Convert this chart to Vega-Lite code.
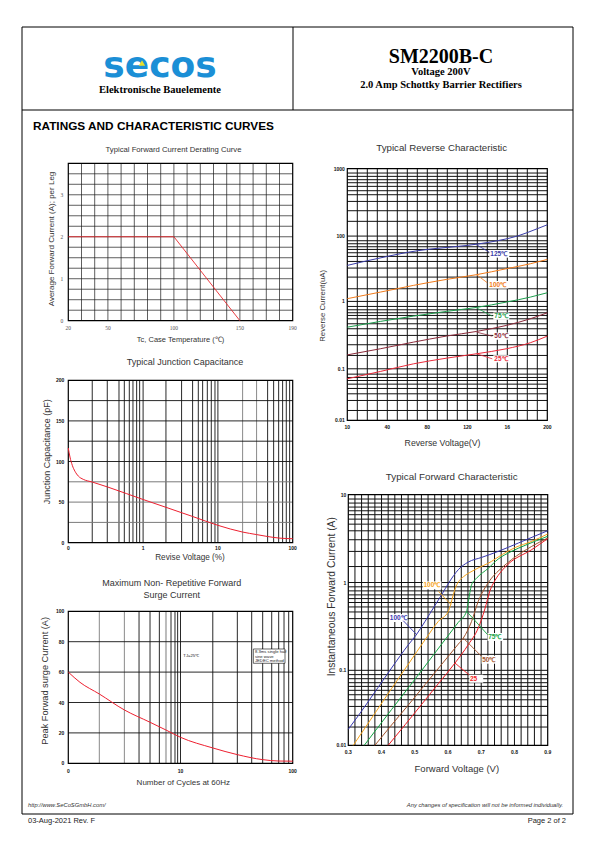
{
  "$schema": "https://vega.github.io/schema/vega-lite/v6.json",
  "width": 595,
  "height": 842,
  "autosize": {"type": "none"},
  "padding": 0,
  "background": "#ffffff",
  "config": {
    "view": {"stroke": null},
    "text": {"font": "Liberation Sans"}
  },
  "resolve": {"scale": {"x": "independent", "y": "independent", "color": "independent"}},
  "layer": [
    {
      "layer": [
        {"data": {"values": [{}]}, "mark": {"type": "rect", "x": 22, "x2": 573, "y": 27, "y2": 814, "filled": false, "color": "#000000", "strokeWidth": 1}, "encoding": {}},
        {"data": {"values": [{}]}, "mark": {"type": "rect", "x": 22, "x2": 573, "y": 109.5, "y2": 110.5, "color": "#000000"}, "encoding": {}},
        {"data": {"values": [{}]}, "mark": {"type": "rect", "x": 292.5, "x2": 293.5, "y": 27, "y2": 110, "color": "#000000"}, "encoding": {}},
        {"data": {"values": [{}]}, "mark": {"type": "text", "text": "secos", "x": 160, "y": 76.5, "font": "DejaVu Sans", "fontWeight": "bold", "fontSize": 36, "letterSpacing": 1, "align": "center", "baseline": "alphabetic", "color": "#1b8fd6"}, "encoding": {}},
        {"data": {"values": [{}]}, "mark": {"type": "point", "shape": "triangle-up", "filled": true, "opacity": 1, "color": "#e6df2a", "size": 40, "x": 142, "y": 63}, "encoding": {}},
        {"data": {"values": [{}]}, "mark": {"type": "text", "text": "Elektronische Bauelemente", "x": 160, "y": 89.5, "font": "Liberation Serif", "fontWeight": "bold", "fontSize": 10.5, "align": "center", "baseline": "middle", "color": "#000000"}, "encoding": {}},
        {"data": {"values": [{}]}, "mark": {"type": "text", "text": "SM2200B-C", "x": 441, "y": 57, "font": "Liberation Serif", "fontWeight": "bold", "fontSize": 20, "align": "center", "baseline": "middle", "color": "#000000"}, "encoding": {}},
        {"data": {"values": [{}]}, "mark": {"type": "text", "text": "Voltage 200V", "x": 441, "y": 72, "font": "Liberation Serif", "fontWeight": "bold", "fontSize": 10.5, "align": "center", "baseline": "middle", "color": "#000000"}, "encoding": {}},
        {"data": {"values": [{}]}, "mark": {"type": "text", "text": "2.0 Amp Schottky Barrier Rectifiers", "x": 441, "y": 84.5, "font": "Liberation Serif", "fontWeight": "bold", "fontSize": 10.5, "align": "center", "baseline": "middle", "color": "#000000"}, "encoding": {}},
        {"data": {"values": [{}]}, "mark": {"type": "text", "text": "RATINGS AND CHARACTERISTIC CURVES", "x": 33, "y": 126, "fontWeight": "bold", "fontSize": 11.8, "align": "left", "baseline": "middle", "color": "#000000"}, "encoding": {}},
        {"data": {"values": [{}]}, "mark": {"type": "text", "text": "Typical Forward Current Derating Curve", "x": 173.5, "y": 150, "fontSize": 7.7, "align": "center", "baseline": "middle", "color": "#333333"}, "encoding": {}},
        {"data": {"values": [{}]}, "mark": {"type": "text", "text": "Typical Reverse Characteristic", "x": 441.7, "y": 148.3, "fontSize": 9.7, "align": "center", "baseline": "middle", "color": "#333333"}, "encoding": {}},
        {"data": {"values": [{}]}, "mark": {"type": "text", "text": "Typical Junction Capacitance", "x": 185, "y": 362.3, "fontSize": 9, "align": "center", "baseline": "middle", "color": "#333333"}, "encoding": {}},
        {"data": {"values": [{}]}, "mark": {"type": "text", "text": "Typical Forward Characteristic", "x": 451.7, "y": 476.7, "fontSize": 9.8, "align": "center", "baseline": "middle", "color": "#333333"}, "encoding": {}},
        {"data": {"values": [{}]}, "mark": {"type": "text", "text": "Maximum Non- Repetitive Forward", "x": 171.7, "y": 583.3, "fontSize": 9, "align": "center", "baseline": "middle", "color": "#333333"}, "encoding": {}},
        {"data": {"values": [{}]}, "mark": {"type": "text", "text": "Surge Current", "x": 171.7, "y": 595, "fontSize": 9, "align": "center", "baseline": "middle", "color": "#333333"}, "encoding": {}},
        {"data": {"values": [{}]}, "mark": {"type": "text", "text": "Tc, Case Temperature (℃)", "x": 180.5, "y": 340, "fontSize": 7.5, "align": "center", "baseline": "middle", "color": "#333333"}, "encoding": {}},
        {"data": {"values": [{}]}, "mark": {"type": "text", "text": "Average Forward Current (A); per Leg", "x": 51.7, "y": 239, "angle": 270, "fontSize": 8, "align": "center", "baseline": "middle", "color": "#333333"}, "encoding": {}},
        {"data": {"values": [{}]}, "mark": {"type": "text", "text": "Reverse Voltage(V)", "x": 442.5, "y": 442.7, "fontSize": 8.75, "align": "center", "baseline": "middle", "color": "#333333"}, "encoding": {}},
        {"data": {"values": [{}]}, "mark": {"type": "text", "text": "Reverse Current(uA)", "x": 323.3, "y": 305.8, "angle": 270, "fontSize": 7.8, "align": "center", "baseline": "middle", "color": "#333333"}, "encoding": {}},
        {"data": {"values": [{}]}, "mark": {"type": "text", "text": "Revise Voltage (%)", "x": 190, "y": 558.3, "fontSize": 8.2, "align": "center", "baseline": "middle", "color": "#333333"}, "encoding": {}},
        {"data": {"values": [{}]}, "mark": {"type": "text", "text": "Junction Capacitance (pF)", "x": 47.3, "y": 451.7, "angle": 270, "fontSize": 9, "align": "center", "baseline": "middle", "color": "#333333"}, "encoding": {}},
        {"data": {"values": [{}]}, "mark": {"type": "text", "text": "Number of Cycles at 60Hz", "x": 183.3, "y": 783.3, "fontSize": 8, "align": "center", "baseline": "middle", "color": "#333333"}, "encoding": {}},
        {"data": {"values": [{}]}, "mark": {"type": "text", "text": "Peak Forwad surge Current (A)", "x": 45, "y": 680.8, "angle": 270, "fontSize": 9.2, "align": "center", "baseline": "middle", "color": "#333333"}, "encoding": {}},
        {"data": {"values": [{}]}, "mark": {"type": "text", "text": "Forward Voltage (V)", "x": 456.8, "y": 769, "fontSize": 9.5, "align": "center", "baseline": "middle", "color": "#333333"}, "encoding": {}},
        {"data": {"values": [{}]}, "mark": {"type": "text", "text": "Instantaneous Forward Current (A)", "x": 331.7, "y": 596.7, "angle": 270, "fontSize": 10.3, "align": "center", "baseline": "middle", "color": "#333333"}, "encoding": {}},
        {"data": {"values": [{}]}, "mark": {"type": "text", "text": "http://www.SeCoSGmbH.com/", "x": 28, "y": 805, "fontSize": 5.8, "fontStyle": "italic", "align": "left", "baseline": "middle", "color": "#333333"}, "encoding": {}},
        {"data": {"values": [{}]}, "mark": {"type": "text", "text": "Any changes of specification will not be informed individually.", "x": 563, "y": 805, "fontSize": 5.8, "fontStyle": "italic", "align": "right", "baseline": "middle", "color": "#333333"}, "encoding": {}},
        {"data": {"values": [{}]}, "mark": {"type": "text", "text": "03-Aug-2021 Rev. F", "x": 28, "y": 821, "fontSize": 7.5, "align": "left", "baseline": "middle", "color": "#222222"}, "encoding": {}},
        {"data": {"values": [{}]}, "mark": {"type": "text", "text": "Page 2 of 2", "x": 566, "y": 821, "fontSize": 7.5, "align": "right", "baseline": "middle", "color": "#222222"}, "encoding": {}}
      ]
    },
    {
      "layer": [
        {"data": {"values": [{"g": 30}, {"g": 40}, {"g": 50}, {"g": 60}, {"g": 70}, {"g": 80}, {"g": 90}, {"g": 100}, {"g": 110}, {"g": 120}, {"g": 130}, {"g": 140}, {"g": 150}, {"g": 160}, {"g": 170}, {"g": 180}]},
         "mark": {"type": "rule", "color": "#1a1a1a", "strokeWidth": 0.7},
         "encoding": {
           "x": {"field": "g", "type": "quantitative", "scale": {"type": "linear", "domain": [20, 190], "range": [68.3, 292.7], "nice": false, "zero": false}, "axis": null},
           "y": {"datum": 0, "scale": {"type": "linear", "domain": [0, 3.75], "range": [320.7, 163.3], "nice": false, "zero": false}, "axis": null},
           "y2": {"datum": 3.75}}},
        {"data": {"values": [{"h": 0.25}, {"h": 0.5}, {"h": 0.75}, {"h": 1}, {"h": 1.25}, {"h": 1.5}, {"h": 1.75}, {"h": 2}, {"h": 2.25}, {"h": 2.5}, {"h": 2.75}, {"h": 3}, {"h": 3.25}, {"h": 3.5}]},
         "mark": {"type": "rule", "color": "#1a1a1a", "strokeWidth": 0.7},
         "encoding": {
           "y": {"field": "h", "type": "quantitative", "scale": {"type": "linear", "domain": [0, 3.75], "range": [320.7, 163.3], "nice": false, "zero": false}, "axis": null},
           "x": {"datum": 20, "scale": {"type": "linear", "domain": [20, 190], "range": [68.3, 292.7], "nice": false, "zero": false}, "axis": null},
           "x2": {"datum": 190}}},
        {"data": {"values": [{}]}, "mark": {"type": "rect", "filled": false, "color": "#000000", "strokeWidth": 1.2},
         "encoding": {
           "x": {"datum": 20, "scale": {"type": "linear", "domain": [20, 190], "range": [68.3, 292.7], "nice": false, "zero": false}, "axis": null},
           "x2": {"datum": 190},
           "y": {"datum": 0, "scale": {"type": "linear", "domain": [0, 3.75], "range": [320.7, 163.3], "nice": false, "zero": false}, "axis": null},
           "y2": {"datum": 3.75}}},
        {"data": {"values": [{"t": 20, "a": 2}, {"t": 100, "a": 2}, {"t": 150, "a": 0}]},
         "mark": {"type": "line", "color": "#e8282e", "strokeWidth": 0.9},
         "encoding": {
           "x": {"field": "t", "type": "quantitative", "scale": {"type": "linear", "domain": [20, 190], "range": [68.3, 292.7], "nice": false, "zero": false}, "axis": null},
           "y": {"field": "a", "type": "quantitative", "scale": {"type": "linear", "domain": [0, 3.75], "range": [320.7, 163.3], "nice": false, "zero": false}, "axis": null}}},
        {"data": {"values": [{"g": 20, "lab": "20"}, {"g": 50, "lab": "50"}, {"g": 100, "lab": "100"}, {"g": 150, "lab": "150"}, {"g": 190, "lab": "190"}]},
         "mark": {"type": "text", "font": "Liberation Serif", "fontSize": 5.5, "color": "#555555", "align": "center", "baseline": "middle", "dy": 7},
         "encoding": {
           "x": {"field": "g", "type": "quantitative", "scale": {"type": "linear", "domain": [20, 190], "range": [68.3, 292.7], "nice": false, "zero": false}, "axis": null},
           "y": {"datum": 0, "scale": {"type": "linear", "domain": [0, 3.75], "range": [320.7, 163.3], "nice": false, "zero": false}, "axis": null},
           "text": {"field": "lab"}}},
        {"data": {"values": [{"h": 0, "lab": "0"}, {"h": 1, "lab": "1"}, {"h": 2, "lab": "2"}, {"h": 3, "lab": "3"}]},
         "mark": {"type": "text", "font": "Liberation Serif", "fontSize": 5.5, "color": "#555555", "align": "right", "baseline": "middle", "dx": -5},
         "encoding": {
           "y": {"field": "h", "type": "quantitative", "scale": {"type": "linear", "domain": [0, 3.75], "range": [320.7, 163.3], "nice": false, "zero": false}, "axis": null},
           "x": {"datum": 20, "scale": {"type": "linear", "domain": [20, 190], "range": [68.3, 292.7], "nice": false, "zero": false}, "axis": null},
           "text": {"field": "lab"}}}
      ]
    },
    {
      "layer": [
        {"data": {"values": [{"g": 0.209}, {"g": 0.332}, {"g": 0.476}, {"g": 0.561}, {"g": 0.654}, {"g": 0.732}, {"g": 0.82}, {"g": 0.899}, {"g": 1}, {"g": 2.02}, {"g": 3.27}, {"g": 4.59}, {"g": 5.47}, {"g": 6.25}, {"g": 7.22}, {"g": 8.16}, {"g": 9.14}, {"g": 10}, {"g": 46.2}, {"g": 55.6}, {"g": 64.9}, {"g": 73.3}, {"g": 82.1}, {"g": 91}]},
         "mark": {"type": "rule", "color": "#111111", "strokeWidth": 0.9},
         "encoding": {
           "x": {"field": "g", "type": "quantitative", "scale": {"type": "log", "domain": [0.1, 100], "range": [68.3, 292.7], "nice": false}, "axis": null},
           "y": {"datum": 0, "scale": {"type": "linear", "domain": [0, 200], "range": [542.7, 380.3], "nice": false, "zero": false}, "axis": null},
           "y2": {"datum": 200}}},
        {"data": {"values": [{"g": 21.4}, {"g": 32.9}]},
         "mark": {"type": "rule", "color": "#8a8a8a", "strokeWidth": 1},
         "encoding": {
           "x": {"field": "g", "type": "quantitative", "scale": {"type": "log", "domain": [0.1, 100], "range": [68.3, 292.7], "nice": false}, "axis": null},
           "y": {"datum": 0, "scale": {"type": "linear", "domain": [0, 200], "range": [542.7, 380.3], "nice": false, "zero": false}, "axis": null},
           "y2": {"datum": 200}}},
        {"data": {"values": [{"h": 100}, {"h": 125}, {"h": 150}, {"h": 175}]},
         "mark": {"type": "rule", "color": "#111111", "strokeWidth": 0.9},
         "encoding": {
           "y": {"field": "h", "type": "quantitative", "scale": {"type": "linear", "domain": [0, 200], "range": [542.7, 380.3], "nice": false, "zero": false}, "axis": null},
           "x": {"datum": 0.1, "scale": {"type": "log", "domain": [0.1, 100], "range": [68.3, 292.7], "nice": false}, "axis": null},
           "x2": {"datum": 100}}},
        {"data": {"values": [{"h": 25}, {"h": 50}, {"h": 75}]},
         "mark": {"type": "rule", "color": "#7a7a7a", "strokeWidth": 1},
         "encoding": {
           "y": {"field": "h", "type": "quantitative", "scale": {"type": "linear", "domain": [0, 200], "range": [542.7, 380.3], "nice": false, "zero": false}, "axis": null},
           "x": {"datum": 0.1, "scale": {"type": "log", "domain": [0.1, 100], "range": [68.3, 292.7], "nice": false}, "axis": null},
           "x2": {"datum": 100}}},
        {"data": {"values": [{}]}, "mark": {"type": "rect", "filled": false, "color": "#000000", "strokeWidth": 1.2},
         "encoding": {
           "x": {"datum": 0.1, "scale": {"type": "log", "domain": [0.1, 100], "range": [68.3, 292.7], "nice": false}, "axis": null},
           "x2": {"datum": 100},
           "y": {"datum": 0, "scale": {"type": "linear", "domain": [0, 200], "range": [542.7, 380.3], "nice": false, "zero": false}, "axis": null},
           "y2": {"datum": 200}}},
        {"data": {"values": [{"v": 0.1, "c": 116.6}, {"v": 0.1053, "c": 105.5}, {"v": 0.1131, "c": 95.3}, {"v": 0.1228, "c": 87.9}, {"v": 0.136, "c": 82.1}, {"v": 0.1587, "c": 78.0}, {"v": 0.209, "c": 74.7}, {"v": 0.3355, "c": 68.6}, {"v": 0.602, "c": 60.4}, {"v": 1, "c": 53.2}, {"v": 2.02, "c": 43.6}, {"v": 4.59, "c": 32.3}, {"v": 10, "c": 21.4}, {"v": 21.4, "c": 13.1}, {"v": 32.9, "c": 10.0}, {"v": 46.2, "c": 7.6}, {"v": 67.6, "c": 5.6}, {"v": 100, "c": 4.9}]},
         "mark": {"type": "line", "color": "#ee2030", "strokeWidth": 1, "interpolate": "monotone"},
         "encoding": {
           "x": {"field": "v", "type": "quantitative", "scale": {"type": "log", "domain": [0.1, 100], "range": [68.3, 292.7], "nice": false}, "axis": null},
           "y": {"field": "c", "type": "quantitative", "scale": {"type": "linear", "domain": [0, 200], "range": [542.7, 380.3], "nice": false, "zero": false}, "axis": null}}},
        {"data": {"values": [{"g": 0.1, "lab": "0"}, {"g": 1, "lab": "1"}, {"g": 10, "lab": "10"}, {"g": 100, "lab": "100"}]},
         "mark": {"type": "text", "fontWeight": "bold", "fontSize": 5, "color": "#111111", "align": "center", "baseline": "middle", "dy": 5},
         "encoding": {
           "x": {"field": "g", "type": "quantitative", "scale": {"type": "log", "domain": [0.1, 100], "range": [68.3, 292.7], "nice": false}, "axis": null},
           "y": {"datum": 0, "scale": {"type": "linear", "domain": [0, 200], "range": [542.7, 380.3], "nice": false, "zero": false}, "axis": null},
           "text": {"field": "lab"}}},
        {"data": {"values": [{"h": 0, "lab": "0"}, {"h": 50, "lab": "50"}, {"h": 100, "lab": "100"}, {"h": 150, "lab": "150"}, {"h": 200, "lab": "200"}]},
         "mark": {"type": "text", "fontWeight": "bold", "fontSize": 5, "color": "#111111", "align": "right", "baseline": "middle", "dx": -4},
         "encoding": {
           "y": {"field": "h", "type": "quantitative", "scale": {"type": "linear", "domain": [0, 200], "range": [542.7, 380.3], "nice": false, "zero": false}, "axis": null},
           "x": {"datum": 0.1, "scale": {"type": "log", "domain": [0.1, 100], "range": [68.3, 292.7], "nice": false}, "axis": null},
           "text": {"field": "lab"}}}
      ]
    },
    {
      "layer": [
        {"data": {"values": [{"g": 4.27}, {"g": 5.35}, {"g": 6.48}, {"g": 8.23}, {"g": 8.93}, {"g": 9.43}, {"g": 10}, {"g": 19.4}, {"g": 32.1}, {"g": 43.1}, {"g": 54}, {"g": 65}, {"g": 75}, {"g": 83.7}, {"g": 92.1}]},
         "mark": {"type": "rule", "color": "#111111", "strokeWidth": 0.9},
         "encoding": {
           "x": {"field": "g", "type": "quantitative", "scale": {"type": "log", "domain": [1, 100], "range": [68.3, 292.7], "nice": false}, "axis": null},
           "y": {"datum": 0, "scale": {"type": "linear", "domain": [0, 100], "range": [763.3, 611.3], "nice": false, "zero": false}, "axis": null},
           "y2": {"datum": 100}}},
        {"data": {"values": [{"g": 1.89}, {"g": 3.16}]},
         "mark": {"type": "rule", "color": "#8a8a8a", "strokeWidth": 1},
         "encoding": {
           "x": {"field": "g", "type": "quantitative", "scale": {"type": "log", "domain": [1, 100], "range": [68.3, 292.7], "nice": false}, "axis": null},
           "y": {"datum": 0, "scale": {"type": "linear", "domain": [0, 100], "range": [763.3, 611.3], "nice": false, "zero": false}, "axis": null},
           "y2": {"datum": 100}}},
        {"data": {"values": [{"g": 7.42}]},
         "mark": {"type": "rule", "color": "#bbbbbb", "strokeWidth": 2},
         "encoding": {
           "x": {"field": "g", "type": "quantitative", "scale": {"type": "log", "domain": [1, 100], "range": [68.3, 292.7], "nice": false}, "axis": null},
           "y": {"datum": 0, "scale": {"type": "linear", "domain": [0, 100], "range": [763.3, 611.3], "nice": false, "zero": false}, "axis": null},
           "y2": {"datum": 100}}},
        {"data": {"values": [{"h": 20}, {"h": 40}, {"h": 60}, {"h": 80}]},
         "mark": {"type": "rule", "color": "#111111", "strokeWidth": 0.9},
         "encoding": {
           "y": {"field": "h", "type": "quantitative", "scale": {"type": "linear", "domain": [0, 100], "range": [763.3, 611.3], "nice": false, "zero": false}, "axis": null},
           "x": {"datum": 1, "scale": {"type": "log", "domain": [1, 100], "range": [68.3, 292.7], "nice": false}, "axis": null},
           "x2": {"datum": 100}}},
        {"data": {"values": [{}]}, "mark": {"type": "rect", "filled": false, "color": "#000000", "strokeWidth": 1.2},
         "encoding": {
           "x": {"datum": 1, "scale": {"type": "log", "domain": [1, 100], "range": [68.3, 292.7], "nice": false}, "axis": null},
           "x2": {"datum": 100},
           "y": {"datum": 0, "scale": {"type": "linear", "domain": [0, 100], "range": [763.3, 611.3], "nice": false, "zero": false}, "axis": null},
           "y2": {"datum": 100}}},
        {"data": {"values": [{"x": 44.6, "x2": 85.4, "y": 65.8, "y2": 75.2}]},
         "mark": {"type": "rect", "fill": "#ffffff", "stroke": "#000000", "strokeWidth": 0.6},
         "encoding": {
           "x": {"field": "x", "type": "quantitative", "scale": {"type": "log", "domain": [1, 100], "range": [68.3, 292.7], "nice": false}, "axis": null},
           "x2": {"field": "x2"},
           "y": {"field": "y", "type": "quantitative", "scale": {"type": "linear", "domain": [0, 100], "range": [763.3, 611.3], "nice": false, "zero": false}, "axis": null},
           "y2": {"field": "y2"}}},
        {"data": {"values": [{"n": 10.6, "p": 70.8, "t": "TJ=25℃"}, {"n": 46.1, "p": 73.0, "t": "8.3ms single half"}, {"n": 46.1, "p": 70.2, "t": "sine wave"}, {"n": 46.1, "p": 67.3, "t": "JEDEC method"}]},
         "mark": {"type": "text", "align": "left", "baseline": "middle", "fontSize": 4.2, "color": "#222222"},
         "encoding": {
           "x": {"field": "n", "type": "quantitative", "scale": {"type": "log", "domain": [1, 100], "range": [68.3, 292.7], "nice": false}, "axis": null},
           "y": {"field": "p", "type": "quantitative", "scale": {"type": "linear", "domain": [0, 100], "range": [763.3, 611.3], "nice": false, "zero": false}, "axis": null},
           "text": {"field": "t"}}},
        {"data": {"values": [{"n": 1, "a": 60}, {"n": 1.27, "a": 53.3}, {"n": 1.89, "a": 45.6}, {"n": 3.16, "a": 35.1}, {"n": 5.35, "a": 27.0}, {"n": 7.42, "a": 21.9}, {"n": 10, "a": 17.1}, {"n": 19.4, "a": 10.1}, {"n": 32.1, "a": 5.7}, {"n": 54, "a": 2.4}, {"n": 75, "a": 1.5}, {"n": 100, "a": 1.4}]},
         "mark": {"type": "line", "color": "#ee2030", "strokeWidth": 1, "interpolate": "monotone"},
         "encoding": {
           "x": {"field": "n", "type": "quantitative", "scale": {"type": "log", "domain": [1, 100], "range": [68.3, 292.7], "nice": false}, "axis": null},
           "y": {"field": "a", "type": "quantitative", "scale": {"type": "linear", "domain": [0, 100], "range": [763.3, 611.3], "nice": false, "zero": false}, "axis": null}}},
        {"data": {"values": [{"g": 1, "lab": "0"}, {"g": 10, "lab": "10"}, {"g": 100, "lab": "100"}]},
         "mark": {"type": "text", "fontWeight": "bold", "fontSize": 5, "color": "#111111", "align": "center", "baseline": "middle", "dy": 7.7},
         "encoding": {
           "x": {"field": "g", "type": "quantitative", "scale": {"type": "log", "domain": [1, 100], "range": [68.3, 292.7], "nice": false}, "axis": null},
           "y": {"datum": 0, "scale": {"type": "linear", "domain": [0, 100], "range": [763.3, 611.3], "nice": false, "zero": false}, "axis": null},
           "text": {"field": "lab"}}},
        {"data": {"values": [{"h": 0, "lab": "0"}, {"h": 20, "lab": "20"}, {"h": 40, "lab": "40"}, {"h": 60, "lab": "60"}, {"h": 80, "lab": "80"}, {"h": 100, "lab": "100"}]},
         "mark": {"type": "text", "fontWeight": "bold", "fontSize": 5, "color": "#111111", "align": "right", "baseline": "middle", "dx": -4},
         "encoding": {
           "y": {"field": "h", "type": "quantitative", "scale": {"type": "linear", "domain": [0, 100], "range": [763.3, 611.3], "nice": false, "zero": false}, "axis": null},
           "x": {"datum": 1, "scale": {"type": "log", "domain": [1, 100], "range": [68.3, 292.7], "nice": false}, "axis": null},
           "text": {"field": "lab"}}}
      ]
    },
    {
      "layer": [
        {"data": {"values": [{"g": 10}, {"g": 20}, {"g": 30}, {"g": 40}, {"g": 50}, {"g": 60}, {"g": 70}, {"g": 80}, {"g": 90}, {"g": 100}, {"g": 110}, {"g": 120}, {"g": 130}, {"g": 140}, {"g": 150}, {"g": 160}, {"g": 170}, {"g": 180}, {"g": 190}]},
         "mark": {"type": "rule", "color": "#111111", "strokeWidth": 1},
         "encoding": {
           "x": {"field": "g", "type": "quantitative", "scale": {"type": "linear", "domain": [0, 200], "range": [347.3, 547.3], "nice": false, "zero": false}, "axis": null},
           "y": {"datum": 0.0163, "scale": {"type": "log", "domain": [0.0163, 99], "range": [420.3, 168.7], "nice": false}, "axis": null},
           "y2": {"datum": 99}}},
        {"data": {"values": [{"h": 85.2}, {"h": 75.9}, {"h": 67.6}, {"h": 60.9}, {"h": 53.7}, {"h": 46.2}, {"h": 40.2}, {"h": 31.9}, {"h": 23.1}, {"h": 16.0}, {"h": 9.6}, {"h": 8.17}, {"h": 7.36}, {"h": 6.64}, {"h": 6.05}, {"h": 5.39}, {"h": 4.75}, {"h": 3.99}, {"h": 3.17}, {"h": 2.32}, {"h": 1.55}, {"h": 1.0}, {"h": 0.84}, {"h": 0.748}, {"h": 0.675}, {"h": 0.615}, {"h": 0.548}, {"h": 0.461}, {"h": 0.388}, {"h": 0.308}, {"h": 0.223}, {"h": 0.154}, {"h": 0.097}, {"h": 0.0806}, {"h": 0.0718}, {"h": 0.0647}, {"h": 0.057}, {"h": 0.0491}, {"h": 0.0408}, {"h": 0.0324}, {"h": 0.0229}]},
         "mark": {"type": "rule", "color": "#111111", "strokeWidth": 1},
         "encoding": {
           "y": {"field": "h", "type": "quantitative", "scale": {"type": "log", "domain": [0.0163, 99], "range": [420.3, 168.7], "nice": false}, "axis": null},
           "x": {"datum": 0, "scale": {"type": "linear", "domain": [0, 200], "range": [347.3, 547.3], "nice": false, "zero": false}, "axis": null},
           "x2": {"datum": 200}}},
        {"data": {"values": [{}]}, "mark": {"type": "rect", "filled": false, "color": "#000000", "strokeWidth": 1.2},
         "encoding": {
           "x": {"datum": 0, "scale": {"type": "linear", "domain": [0, 200], "range": [347.3, 547.3], "nice": false, "zero": false}, "axis": null},
           "x2": {"datum": 200},
           "y": {"datum": 0.0163, "scale": {"type": "log", "domain": [0.0163, 99], "range": [420.3, 168.7], "nice": false}, "axis": null},
           "y2": {"datum": 99}}},
        {"data": {"values": [
           {"s": "a", "v": 0, "i": 3.48}, {"s": "a", "v": 20, "i": 4.09}, {"s": "a", "v": 40, "i": 4.75}, {"s": "a", "v": 60, "i": 5.46}, {"s": "a", "v": 80, "i": 6.05}, {"s": "a", "v": 100, "i": 6.49}, {"s": "a", "v": 120, "i": 6.95}, {"s": "a", "v": 130, "i": 7.28}, {"s": "a", "v": 150, "i": 8.17}, {"s": "a", "v": 170, "i": 9.6}, {"s": "a", "v": 190, "i": 12.4}, {"s": "a", "v": 200, "i": 14.2},
           {"s": "b", "v": 0, "i": 1.10}, {"s": "b", "v": 33, "i": 1.38}, {"s": "b", "v": 66, "i": 1.74}, {"s": "b", "v": 99, "i": 2.14}, {"s": "b", "v": 129, "i": 2.52}, {"s": "b", "v": 159, "i": 3.10}, {"s": "b", "v": 183, "i": 3.68}, {"s": "b", "v": 200, "i": 4.28},
           {"s": "c", "v": 0, "i": 0.41}, {"s": "c", "v": 33, "i": 0.50}, {"s": "c", "v": 66, "i": 0.601}, {"s": "c", "v": 99, "i": 0.707}, {"s": "c", "v": 129, "i": 0.811}, {"s": "c", "v": 159, "i": 0.977}, {"s": "c", "v": 183, "i": 1.16}, {"s": "c", "v": 200, "i": 1.35},
           {"s": "d", "v": 0, "i": 0.157}, {"s": "d", "v": 33, "i": 0.194}, {"s": "d", "v": 66, "i": 0.244}, {"s": "d", "v": 99, "i": 0.301}, {"s": "d", "v": 129, "i": 0.353}, {"s": "d", "v": 159, "i": 0.435}, {"s": "d", "v": 183, "i": 0.548}, {"s": "d", "v": 200, "i": 0.675},
           {"s": "e", "v": 0, "i": 0.0686}, {"s": "e", "v": 33, "i": 0.0884}, {"s": "e", "v": 66, "i": 0.115}, {"s": "e", "v": 99, "i": 0.140}, {"s": "e", "v": 129, "i": 0.163}, {"s": "e", "v": 159, "i": 0.194}, {"s": "e", "v": 183, "i": 0.239}, {"s": "e", "v": 200, "i": 0.301}
         ]},
         "mark": {"type": "line", "strokeWidth": 1, "interpolate": "monotone"},
         "encoding": {
           "x": {"field": "v", "type": "quantitative", "scale": {"type": "linear", "domain": [0, 200], "range": [347.3, 547.3], "nice": false, "zero": false}, "axis": null},
           "y": {"field": "i", "type": "quantitative", "scale": {"type": "log", "domain": [0.0163, 99], "range": [420.3, 168.7], "nice": false}, "axis": null},
           "color": {"field": "s", "type": "nominal", "scale": {"domain": ["a", "b", "c", "d", "e"], "range": ["#3b3ea8", "#f07a1a", "#1e9e4e", "#8b2b3b", "#ea2b3b"]}, "legend": null}}},
        {"data": {"values": [{"x": 142, "x2": 162, "y": 4.55, "y2": 5.95}, {"x": 141, "x2": 161, "y": 1.56, "y2": 2.03}, {"x": 146, "x2": 162, "y": 0.53, "y2": 0.68}, {"x": 146, "x2": 162, "y": 0.265, "y2": 0.34}, {"x": 146, "x2": 162, "y": 0.121, "y2": 0.155}]},
         "mark": {"type": "rect", "color": "#ffffff"},
         "encoding": {
           "x": {"field": "x", "type": "quantitative", "scale": {"type": "linear", "domain": [0, 200], "range": [347.3, 547.3], "nice": false, "zero": false}, "axis": null},
           "x2": {"field": "x2"},
           "y": {"field": "y", "type": "quantitative", "scale": {"type": "log", "domain": [0.0163, 99], "range": [420.3, 168.7], "nice": false}, "axis": null},
           "y2": {"field": "y2"}}},
        {"data": {"values": [{"s": "a", "x": 129.3, "y": 7.11, "x2": 142, "y2": 5.5}, {"s": "b", "x": 129.3, "y": 2.52, "x2": 140, "y2": 1.91}, {"s": "c", "x": 129.3, "y": 0.80, "x2": 145, "y2": 0.60}, {"s": "d", "x": 129.3, "y": 0.345, "x2": 145, "y2": 0.30}, {"s": "e", "x": 129.3, "y": 0.163, "x2": 145, "y2": 0.137}]},
         "mark": {"type": "rule", "strokeWidth": 0.8},
         "encoding": {
           "x": {"field": "x", "type": "quantitative", "scale": {"type": "linear", "domain": [0, 200], "range": [347.3, 547.3], "nice": false, "zero": false}, "axis": null},
           "x2": {"field": "x2"},
           "y": {"field": "y", "type": "quantitative", "scale": {"type": "log", "domain": [0.0163, 99], "range": [420.3, 168.7], "nice": false}, "axis": null},
           "y2": {"field": "y2"},
           "color": {"field": "s", "type": "nominal", "scale": {"domain": ["a", "b", "c", "d", "e"], "range": ["#3b3ea8", "#f07a1a", "#1e9e4e", "#8b2b3b", "#ea2b3b"]}, "legend": null}}},
        {"data": {"values": [{"s": "a", "lab": "125℃", "v": 143, "i": 5.2}, {"s": "b", "lab": "100℃", "v": 142, "i": 1.78}, {"s": "c", "lab": "75℃", "v": 147, "i": 0.60}, {"s": "d", "lab": "50℃", "v": 147, "i": 0.30}, {"s": "e", "lab": "25℃", "v": 147, "i": 0.137}]},
         "mark": {"type": "text", "align": "left", "baseline": "middle", "fontWeight": "bold", "fontSize": 6.5},
         "encoding": {
           "x": {"field": "v", "type": "quantitative", "scale": {"type": "linear", "domain": [0, 200], "range": [347.3, 547.3], "nice": false, "zero": false}, "axis": null},
           "y": {"field": "i", "type": "quantitative", "scale": {"type": "log", "domain": [0.0163, 99], "range": [420.3, 168.7], "nice": false}, "axis": null},
           "text": {"field": "lab"},
           "color": {"field": "s", "type": "nominal", "scale": {"domain": ["a", "b", "c", "d", "e"], "range": ["#3b3ea8", "#f07a1a", "#1e9e4e", "#8b2b3b", "#ea2b3b"]}, "legend": null}}},
        {"data": {"values": [{"g": 0, "lab": "10"}, {"g": 40, "lab": "40"}, {"g": 80, "lab": "80"}, {"g": 120, "lab": "120"}, {"g": 160, "lab": "16"}, {"g": 200, "lab": "200"}]},
         "mark": {"type": "text", "fontWeight": "bold", "fontSize": 5, "color": "#111111", "align": "center", "baseline": "middle", "dy": 6.4},
         "encoding": {
           "x": {"field": "g", "type": "quantitative", "scale": {"type": "linear", "domain": [0, 200], "range": [347.3, 547.3], "nice": false, "zero": false}, "axis": null},
           "y": {"datum": 0.0163, "scale": {"type": "log", "domain": [0.0163, 99], "range": [420.3, 168.7], "nice": false}, "axis": null},
           "text": {"field": "lab"}}},
        {"data": {"values": [{"h": 99, "lab": "1000"}, {"h": 9.6, "lab": "100"}, {"h": 1, "lab": "1"}, {"h": 0.097, "lab": "0.1"}, {"h": 0.0163, "lab": "0.01"}]},
         "mark": {"type": "text", "fontWeight": "bold", "fontSize": 5, "color": "#111111", "align": "right", "baseline": "middle", "dx": -2.5},
         "encoding": {
           "y": {"field": "h", "type": "quantitative", "scale": {"type": "log", "domain": [0.0163, 99], "range": [420.3, 168.7], "nice": false}, "axis": null},
           "x": {"datum": 0, "scale": {"type": "linear", "domain": [0, 200], "range": [347.3, 547.3], "nice": false, "zero": false}, "axis": null},
           "text": {"field": "lab"}}}
      ]
    },
    {
      "layer": [
        {"data": {"values": [{"g": 0.32}, {"g": 0.34}, {"g": 0.36}, {"g": 0.38}, {"g": 0.4}, {"g": 0.42}, {"g": 0.44}, {"g": 0.46}, {"g": 0.48}, {"g": 0.5}, {"g": 0.52}, {"g": 0.54}, {"g": 0.56}, {"g": 0.58}, {"g": 0.6}, {"g": 0.62}, {"g": 0.64}, {"g": 0.66}, {"g": 0.68}, {"g": 0.7}, {"g": 0.72}, {"g": 0.74}, {"g": 0.76}, {"g": 0.78}, {"g": 0.8}, {"g": 0.82}, {"g": 0.84}, {"g": 0.86}, {"g": 0.88}]},
         "mark": {"type": "rule", "color": "#111111", "strokeWidth": 1},
         "encoding": {
           "x": {"field": "g", "type": "quantitative", "scale": {"type": "linear", "domain": [0.3, 0.9], "range": [348.3, 547.7], "nice": false, "zero": false}, "axis": null},
           "y": {"datum": 0.014, "scale": {"type": "log", "domain": [0.014, 10], "range": [745.3, 494.7], "nice": false}, "axis": null},
           "y2": {"datum": 10}}},
        {"data": {"values": [{"h": 8.93}, {"h": 8.03}, {"h": 7.23}, {"h": 6.56}, {"h": 5.92}, {"h": 5.27}, {"h": 4.62}, {"h": 3.88}, {"h": 3.07}, {"h": 2.26}, {"h": 1.52}, {"h": 1}, {"h": 0.893}, {"h": 0.803}, {"h": 0.723}, {"h": 0.656}, {"h": 0.592}, {"h": 0.527}, {"h": 0.462}, {"h": 0.388}, {"h": 0.307}, {"h": 0.226}, {"h": 0.152}, {"h": 0.1}, {"h": 0.0893}, {"h": 0.0803}, {"h": 0.0723}, {"h": 0.0656}, {"h": 0.0592}, {"h": 0.0527}, {"h": 0.0462}, {"h": 0.0388}, {"h": 0.0307}, {"h": 0.0226}]},
         "mark": {"type": "rule", "color": "#111111", "strokeWidth": 1},
         "encoding": {
           "y": {"field": "h", "type": "quantitative", "scale": {"type": "log", "domain": [0.014, 10], "range": [745.3, 494.7], "nice": false}, "axis": null},
           "x": {"datum": 0.3, "scale": {"type": "linear", "domain": [0.3, 0.9], "range": [348.3, 547.7], "nice": false, "zero": false}, "axis": null},
           "x2": {"datum": 0.9}}},
        {"data": {"values": [{}]}, "mark": {"type": "rect", "filled": false, "color": "#000000", "strokeWidth": 1.2},
         "encoding": {
           "x": {"datum": 0.3, "scale": {"type": "linear", "domain": [0.3, 0.9], "range": [348.3, 547.7], "nice": false, "zero": false}, "axis": null},
           "x2": {"datum": 0.9},
           "y": {"datum": 0.014, "scale": {"type": "log", "domain": [0.014, 10], "range": [745.3, 494.7], "nice": false}, "axis": null},
           "y2": {"datum": 10}}},
        {"data": {"values": [
           {"s": "a", "v": 0.300, "i": 0.0213}, {"s": "a", "v": 0.330, "i": 0.0304}, {"s": "a", "v": 0.380, "i": 0.0566}, {"s": "a", "v": 0.430, "i": 0.106}, {"s": "a", "v": 0.481, "i": 0.196}, {"s": "a", "v": 0.504, "i": 0.252}, {"s": "a", "v": 0.531, "i": 0.361}, {"s": "a", "v": 0.561, "i": 0.55}, {"s": "a", "v": 0.581, "i": 0.727}, {"s": "a", "v": 0.603, "i": 1.0}, {"s": "a", "v": 0.631, "i": 1.40}, {"s": "a", "v": 0.661, "i": 1.71}, {"s": "a", "v": 0.701, "i": 1.93}, {"s": "a", "v": 0.751, "i": 2.26}, {"s": "a", "v": 0.812, "i": 2.82}, {"s": "a", "v": 0.900, "i": 3.89},
           {"s": "b", "v": 0.315, "i": 0.014}, {"s": "b", "v": 0.380, "i": 0.0324}, {"s": "b", "v": 0.430, "i": 0.0619}, {"s": "b", "v": 0.481, "i": 0.118}, {"s": "b", "v": 0.531, "i": 0.223}, {"s": "b", "v": 0.571, "i": 0.361}, {"s": "b", "v": 0.601, "i": 0.47}, {"s": "b", "v": 0.608, "i": 0.56}, {"s": "b", "v": 0.616, "i": 0.73}, {"s": "b", "v": 0.624, "i": 0.9}, {"s": "b", "v": 0.634, "i": 1.05}, {"s": "b", "v": 0.646, "i": 1.16}, {"s": "b", "v": 0.681, "i": 1.40}, {"s": "b", "v": 0.731, "i": 1.74}, {"s": "b", "v": 0.751, "i": 1.95}, {"s": "b", "v": 0.802, "i": 2.5}, {"s": "b", "v": 0.852, "i": 2.94}, {"s": "b", "v": 0.900, "i": 3.57},
           {"s": "c", "v": 0.348, "i": 0.014}, {"s": "c", "v": 0.380, "i": 0.0202}, {"s": "c", "v": 0.430, "i": 0.0357}, {"s": "c", "v": 0.481, "i": 0.0634}, {"s": "c", "v": 0.531, "i": 0.112}, {"s": "c", "v": 0.581, "i": 0.199}, {"s": "c", "v": 0.631, "i": 0.352}, {"s": "c", "v": 0.656, "i": 0.47}, {"s": "c", "v": 0.663, "i": 0.666}, {"s": "c", "v": 0.671, "i": 0.944}, {"s": "c", "v": 0.686, "i": 1.12}, {"s": "c", "v": 0.721, "i": 1.45}, {"s": "c", "v": 0.751, "i": 1.85}, {"s": "c", "v": 0.791, "i": 2.26}, {"s": "c", "v": 0.832, "i": 2.65}, {"s": "c", "v": 0.900, "i": 3.36},
           {"s": "d", "v": 0.380, "i": 0.014}, {"s": "d", "v": 0.430, "i": 0.0238}, {"s": "d", "v": 0.481, "i": 0.0404}, {"s": "d", "v": 0.531, "i": 0.0688}, {"s": "d", "v": 0.581, "i": 0.117}, {"s": "d", "v": 0.631, "i": 0.199}, {"s": "d", "v": 0.646, "i": 0.233}, {"s": "d", "v": 0.671, "i": 0.361}, {"s": "d", "v": 0.691, "i": 0.611}, {"s": "d", "v": 0.711, "i": 0.866}, {"s": "d", "v": 0.731, "i": 1.12}, {"s": "d", "v": 0.761, "i": 1.46}, {"s": "d", "v": 0.791, "i": 1.82}, {"s": "d", "v": 0.852, "i": 2.58}, {"s": "d", "v": 0.900, "i": 3.21},
           {"s": "e", "v": 0.420, "i": 0.014}, {"s": "e", "v": 0.471, "i": 0.024}, {"s": "e", "v": 0.521, "i": 0.0411}, {"s": "e", "v": 0.571, "i": 0.0706}, {"s": "e", "v": 0.621, "i": 0.121}, {"s": "e", "v": 0.661, "i": 0.196}, {"s": "e", "v": 0.691, "i": 0.303}, {"s": "e", "v": 0.711, "i": 0.50}, {"s": "e", "v": 0.726, "i": 0.80}, {"s": "e", "v": 0.741, "i": 1.05}, {"s": "e", "v": 0.761, "i": 1.35}, {"s": "e", "v": 0.781, "i": 1.62}, {"s": "e", "v": 0.852, "i": 2.37}, {"s": "e", "v": 0.900, "i": 3.16}
         ]},
         "mark": {"type": "line", "strokeWidth": 1, "interpolate": "monotone"},
         "encoding": {
           "x": {"field": "v", "type": "quantitative", "scale": {"type": "linear", "domain": [0.3, 0.9], "range": [348.3, 547.7], "nice": false, "zero": false}, "axis": null},
           "y": {"field": "i", "type": "quantitative", "scale": {"type": "log", "domain": [0.014, 10], "range": [745.3, 494.7], "nice": false}, "axis": null},
           "color": {"field": "s", "type": "nominal", "scale": {"domain": ["a", "b", "c", "d", "e"], "range": ["#3838b0", "#f5a41c", "#14a544", "#a3542e", "#ee1d25"]}, "legend": null}}},
        {"data": {"values": [{"x": 0.423, "x2": 0.478, "y": 0.355, "y2": 0.437}, {"x": 0.524, "x2": 0.58, "y": 0.836, "y2": 1.03}, {"x": 0.719, "x2": 0.766, "y": 0.216, "y2": 0.266}, {"x": 0.701, "x2": 0.748, "y": 0.119, "y2": 0.147}, {"x": 0.664, "x2": 0.706, "y": 0.0723, "y2": 0.0892}]},
         "mark": {"type": "rect", "color": "#ffffff"},
         "encoding": {
           "x": {"field": "x", "type": "quantitative", "scale": {"type": "linear", "domain": [0.3, 0.9], "range": [348.3, 547.7], "nice": false, "zero": false}, "axis": null},
           "x2": {"field": "x2"},
           "y": {"field": "y", "type": "quantitative", "scale": {"type": "log", "domain": [0.014, 10], "range": [745.3, 494.7], "nice": false}, "axis": null},
           "y2": {"field": "y2"}}},
        {"data": {"values": [{"s": "a", "x": 0.4655, "y": 0.367, "x2": 0.5056, "y2": 0.255}, {"s": "b", "x": 0.571, "y": 0.793, "x2": 0.609, "y2": 0.56}, {"s": "c", "x": 0.656, "y": 0.47, "x2": 0.719, "y2": 0.255}, {"s": "d", "x": 0.646, "y": 0.233, "x2": 0.701, "y2": 0.144}, {"s": "e", "x": 0.621, "y": 0.121, "x2": 0.663, "y2": 0.0891}]},
         "mark": {"type": "rule", "strokeWidth": 0.9},
         "encoding": {
           "x": {"field": "x", "type": "quantitative", "scale": {"type": "linear", "domain": [0.3, 0.9], "range": [348.3, 547.7], "nice": false, "zero": false}, "axis": null},
           "x2": {"field": "x2"},
           "y": {"field": "y", "type": "quantitative", "scale": {"type": "log", "domain": [0.014, 10], "range": [745.3, 494.7], "nice": false}, "axis": null},
           "y2": {"field": "y2"},
           "color": {"field": "s", "type": "nominal", "scale": {"domain": ["a", "b", "c", "d", "e"], "range": ["#3838b0", "#f5a41c", "#14a544", "#a3542e", "#ee1d25"]}, "legend": null}}},
        {"data": {"values": [{"s": "a", "lab": "100℃", "v": 0.425, "i": 0.394}, {"s": "b", "lab": "100℃", "v": 0.526, "i": 0.928}, {"s": "c", "lab": "75℃", "v": 0.721, "i": 0.24}, {"s": "d", "lab": "50℃", "v": 0.703, "i": 0.132}, {"s": "e", "lab": "25", "v": 0.666, "i": 0.0803}]},
         "mark": {"type": "text", "align": "left", "baseline": "middle", "fontWeight": "bold", "fontSize": 6.5},
         "encoding": {
           "x": {"field": "v", "type": "quantitative", "scale": {"type": "linear", "domain": [0.3, 0.9], "range": [348.3, 547.7], "nice": false, "zero": false}, "axis": null},
           "y": {"field": "i", "type": "quantitative", "scale": {"type": "log", "domain": [0.014, 10], "range": [745.3, 494.7], "nice": false}, "axis": null},
           "text": {"field": "lab"},
           "color": {"field": "s", "type": "nominal", "scale": {"domain": ["a", "b", "c", "d", "e"], "range": ["#3838b0", "#f5a41c", "#14a544", "#a3542e", "#ee1d25"]}, "legend": null}}},
        {"data": {"values": [{"g": 0.3, "lab": "0.3"}, {"g": 0.4, "lab": "0.4"}, {"g": 0.5, "lab": "0.5"}, {"g": 0.6, "lab": "0.6"}, {"g": 0.7, "lab": "0.7"}, {"g": 0.8, "lab": "0.8"}, {"g": 0.9, "lab": "0.9"}]},
         "mark": {"type": "text", "fontWeight": "bold", "fontSize": 5, "color": "#111111", "align": "center", "baseline": "middle", "dy": 7},
         "encoding": {
           "x": {"field": "g", "type": "quantitative", "scale": {"type": "linear", "domain": [0.3, 0.9], "range": [348.3, 547.7], "nice": false, "zero": false}, "axis": null},
           "y": {"datum": 0.014, "scale": {"type": "log", "domain": [0.014, 10], "range": [745.3, 494.7], "nice": false}, "axis": null},
           "text": {"field": "lab"}}},
        {"data": {"values": [{"h": 10, "lab": "10"}, {"h": 1, "lab": "1"}, {"h": 0.1, "lab": "0.1"}, {"h": 0.014, "lab": "0.01"}]},
         "mark": {"type": "text", "fontWeight": "bold", "fontSize": 5, "color": "#111111", "align": "right", "baseline": "middle", "dx": -2},
         "encoding": {
           "y": {"field": "h", "type": "quantitative", "scale": {"type": "log", "domain": [0.014, 10], "range": [745.3, 494.7], "nice": false}, "axis": null},
           "x": {"datum": 0.3, "scale": {"type": "linear", "domain": [0.3, 0.9], "range": [348.3, 547.7], "nice": false, "zero": false}, "axis": null},
           "text": {"field": "lab"}}}
      ]
    }
  ]
}
